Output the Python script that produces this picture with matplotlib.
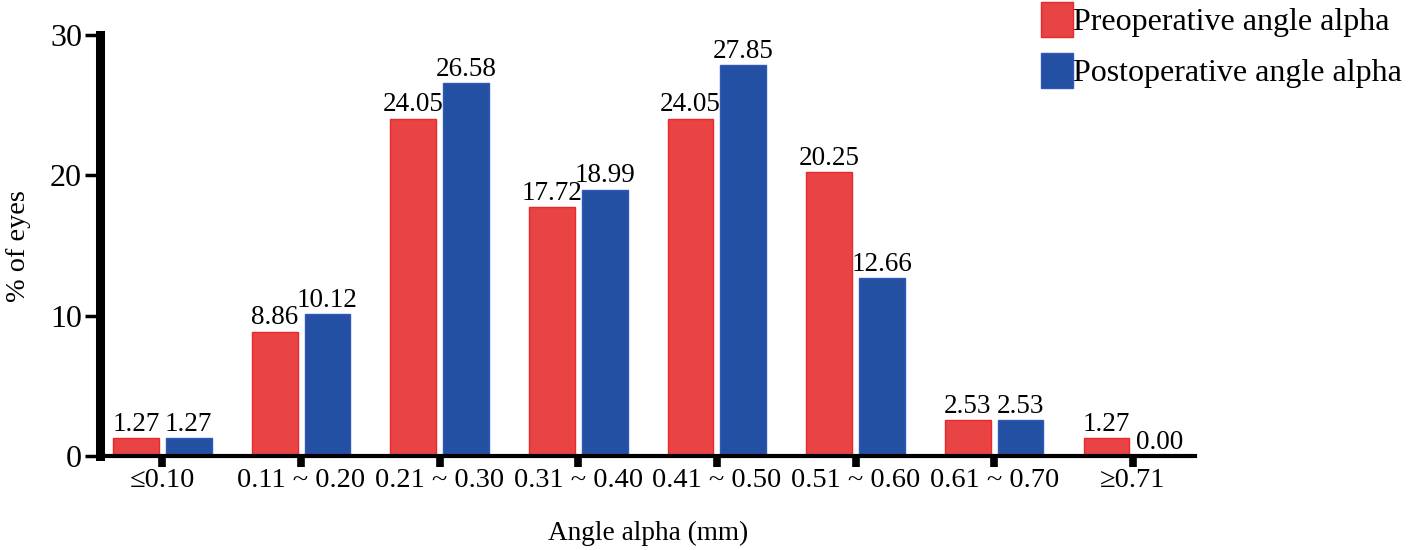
import numpy as np
import matplotlib.pyplot as plt

plt.rcParams['font.family'] = ['Liberation Serif', 'DejaVu Serif']

categories = ['≤0.10', '0.11 ~ 0.20', '0.21 ~ 0.30', '0.31 ~ 0.40',
              '0.41 ~ 0.50', '0.51 ~ 0.60', '0.61 ~ 0.70', '≥0.71']
preop = [1.27, 8.86, 24.05, 17.72, 24.05, 20.25, 2.53, 1.27]
postop = [1.27, 10.12, 26.58, 18.99, 27.85, 12.66, 2.53, 0.00]

fig = plt.figure(figsize=(14.15, 5.5), dpi=100)
ax = fig.add_axes([0.0707, 0.171, 0.774, 0.765])

x = np.arange(len(categories))
w = 0.33
b1 = ax.bar(x - 0.19, preop, w, color='#E84444', edgecolor='#E8282C', linewidth=1,
            label='Preoperative angle alpha')
b2 = ax.bar(x + 0.19, postop, w, color='#2450A4', edgecolor='#3058B8', linewidth=1,
            label='Postoperative angle alpha')
ax.bar_label(b1, fmt='%.2f', fontsize=19.5, padding=1)
ax.bar_label(b2, fmt='%.2f', fontsize=19.5, padding=1)

ax.set_xlim(-0.45, 7.45)
ax.set_ylim(0, 30)
ax.set_yticks([0, 10, 20, 30])
ax.set_xticks(x)
ax.set_xticklabels(categories, fontsize=20.5)
ax.tick_params(axis='y', labelsize=23, width=2.5, length=11, pad=2)
ax.tick_params(axis='x', width=5.5, length=8, pad=1)

for s in ['top', 'right']:
    ax.spines[s].set_visible(False)
ax.spines['left'].set_linewidth(6.5)
ax.spines['bottom'].set_linewidth(3)

ax.set_xlabel('Angle alpha (mm)', fontsize=19.6, labelpad=20)
ax.set_ylabel('% of eyes', fontsize=20.3, labelpad=14)

fig.legend(handles=[b1, b2], loc='upper left', bbox_to_anchor=(0.7265, 1.02),
           frameon=False, fontsize=23, handlelength=1.0, handleheight=1.3,
           handletextpad=0.0, labelspacing=0.5, borderaxespad=0)

fig.savefig('out.png', dpi=100)
